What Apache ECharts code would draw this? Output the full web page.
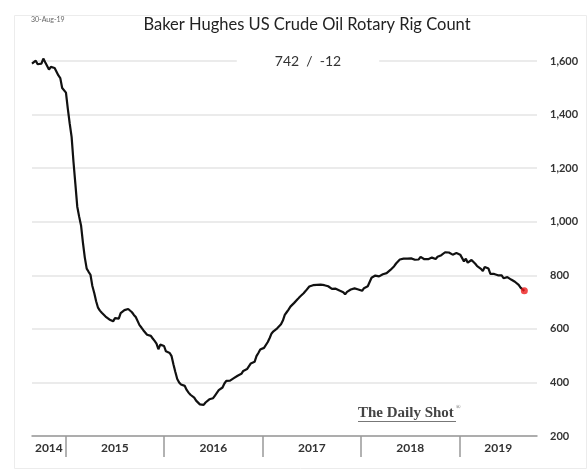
<!DOCTYPE html>
<html>
<head>
<meta charset="utf-8">
<script src="https://cdn.jsdelivr.net/npm/echarts@6/dist/echarts.min.js"></script>
<style>
  html, body { margin: 0; padding: 0; background: #fff; }
  #rigChart { width: 587px; height: 470px; }
</style>
</head>
<body>
<div id="rigChart"></div>
<script>
// weekly Baker Hughes oil rig count, first reading on 29-Aug-2014, one value per Friday
var firstWeek = [2014, 7, 29];
var rigs2014 = [1590, 1593, 1601, 1588, 1592, 1590, 1609, 1595, 1590, 1568, 1578, 1574, 1574, 1575, 1546, 1536, 1499, 1499];
var rigs2015 = [1482, 1421, 1366, 1317, 1223, 1140, 1056, 1019, 986, 922, 866, 825, 813, 802, 760, 734, 703,
  679, 668, 660, 659, 646, 642, 635, 631, 628, 640, 645, 638, 659, 664, 670, 672, 674, 675,
  662, 652, 644, 641, 614, 605, 595, 594, 578, 572, 574, 564, 555, 545, 524, 541, 538];
var rigs2016 = [536, 516, 515, 510, 498, 467, 439, 413, 400, 392, 386, 387, 372, 362, 354, 351, 343, 332,
  328, 318, 318, 316, 325, 328, 337, 330, 341, 351, 357, 371, 374, 381, 396, 406, 406,
  407, 414, 416, 418, 425, 428, 432, 443, 441, 450, 452, 471, 474, 477, 498, 510, 523, 525];
var rigs2017 = [529, 522, 551, 566, 583, 591, 597, 602, 609, 617, 631, 652, 662, 672, 683, 688, 697,
  703, 712, 720, 722, 733, 741, 747, 758, 756, 763, 765, 764, 766, 765, 768, 763, 759,
  759, 756, 749, 744, 750, 748, 743, 736, 737, 729, 738, 738, 747, 749, 751, 752, 747, 747];
var rigs2018 = [742, 752, 747, 759, 765, 791, 798, 799, 800, 796, 800, 804, 797, 808, 815, 820, 825,
  834, 844, 846, 859, 861, 862, 863, 862, 858, 863, 863, 858, 861, 859, 869, 869, 860, 862,
  860, 867, 866, 863, 861, 869, 873, 875, 874, 886, 885, 885, 887, 877, 873, 883, 885];
var rigs2019 = [877, 873, 852, 862, 847, 854, 857, 853, 843, 834, 833, 824, 816, 831, 833, 825, 805,
  807, 805, 802, 800, 797, 800, 789, 788, 793, 788, 784, 779, 776, 770, 764, 754, 754, 742];

var yearStarts = [2015, 2016, 2017, 2018, 2019];
var axisEnd = [2019, 9, 16];
var yTicks = [200, 1600, 200]; // min, max, step

var rigs = rigs2014.concat(rigs2015, rigs2016, rigs2017, rigs2018, rigs2019);
var points = rigs.map(function (v, i) {
  return [new Date(firstWeek[0], firstWeek[1], firstWeek[2] + 7 * i).getTime(), v];
});
var lastPt = points[points.length - 1];
var change = lastPt[1] - points[points.length - 2][1];

var xMin = points[0][0];
var xMax = new Date(axisEnd[0], axisEnd[1], axisEnd[2]).getTime();
var tickTimes = yearStarts.map(function (y) { return new Date(y, 0, 1).getTime(); });
var bounds = [xMin].concat(tickTimes, [xMax]);
var labelTimes = [];
for (var i = 0; i < bounds.length - 1; i++) {
  labelTimes.push((bounds[i] + bounds[i + 1]) / 2);
}

var months = ['Jan', 'Feb', 'Mar', 'Apr', 'May', 'Jun', 'Jul', 'Aug', 'Sep', 'Oct', 'Nov', 'Dec'];
var ld = new Date(lastPt[0]);
var dateText = ld.getDate() + '-' + months[ld.getMonth()] + '-' + String(ld.getFullYear()).slice(2);

var font = 'Lato, "Open Sans", sans-serif';
var serif = '"Liberation Serif", "DejaVu Serif", serif';
var chart = echarts.init(document.getElementById('rigChart'));
chart.setOption({
  animation: false,
  backgroundColor: '#fff',
  grid: { left: 32, right: 50, top: 61, bottom: 34 },
  graphic: [
    {
      type: 'rect', z: -1, silent: true,
      shape: { x: 14.5, y: 15.5, width: 572, height: 453 },
      style: { fill: 'none', stroke: '#ececec', lineWidth: 1 }
    },
    {
      type: 'text', left: 31, top: 16,
      style: { text: dateText, fontSize: 7, fill: '#666', fontFamily: font }
    },
    {
      type: 'text', x: 307, y: 25,
      style: {
        text: 'Baker Hughes US Crude Oil Rotary Rig Count', fontSize: 16.5, fill: '#222',
        fontFamily: font, align: 'center', verticalAlign: 'middle'
      }
    },
    {
      type: 'text', z: 100, x: 308, y: 61,
      style: {
        text: lastPt[1] + '  /  ' + change, fontSize: 14, fill: '#333', fontFamily: font,
        align: 'center', verticalAlign: 'middle', backgroundColor: '#fff', padding: [4, 38]
      }
    },
    {
      type: 'text', z: 100, x: 358, y: 413,
      style: {
        text: 'The Daily Shot', fontSize: 15, fill: '#444', fontFamily: serif,
        fontWeight: 'bold', verticalAlign: 'middle'
      }
    },
    {
      type: 'text', z: 100, x: 456, y: 407,
      style: { text: '\u00ae', fontSize: 6, fill: '#555', fontFamily: serif, verticalAlign: 'middle' }
    },
    {
      type: 'line', z: 100,
      shape: { x1: 358, y1: 421.5, x2: 456, y2: 421.5 },
      style: { stroke: '#777', lineWidth: 1 }
    }
  ],
  xAxis: {
    type: 'value',
    min: xMin,
    max: xMax,
    axisLine: { show: true, lineStyle: { color: '#999', width: 1.5 } },
    axisTick: {
      show: true, length: 21,
      customValues: tickTimes,
      lineStyle: { color: '#999', width: 1.5 }
    },
    axisLabel: {
      customValues: labelTimes,
      margin: 6,
      fontSize: 12,
      fontWeight: 'bold',
      color: '#333',
      fontFamily: font,
      formatter: function (v) { return String(new Date(v).getFullYear()); }
    },
    splitLine: { show: false }
  },
  yAxis: {
    type: 'value',
    position: 'right',
    min: yTicks[0],
    max: yTicks[1],
    interval: yTicks[2],
    axisLine: { show: false },
    axisTick: { show: false },
    axisLabel: {
      margin: 13, fontSize: 11, fontWeight: 'bold', color: '#333', fontFamily: font,
      formatter: function (v) { return v.toLocaleString('en-US'); }
    },
    splitLine: { lineStyle: { color: '#e4e4e4', width: 1.5 } }
  },
  series: [
    {
      type: 'line',
      data: points,
      symbol: 'none',
      clip: false,
      lineStyle: { color: '#111', width: 2.2 }
    },
    {
      type: 'scatter',
      data: [lastPt],
      symbolSize: 7,
      itemStyle: { color: '#ee1c1c' },
      z: 5
    }
  ]
});
</script>
</body>
</html>
